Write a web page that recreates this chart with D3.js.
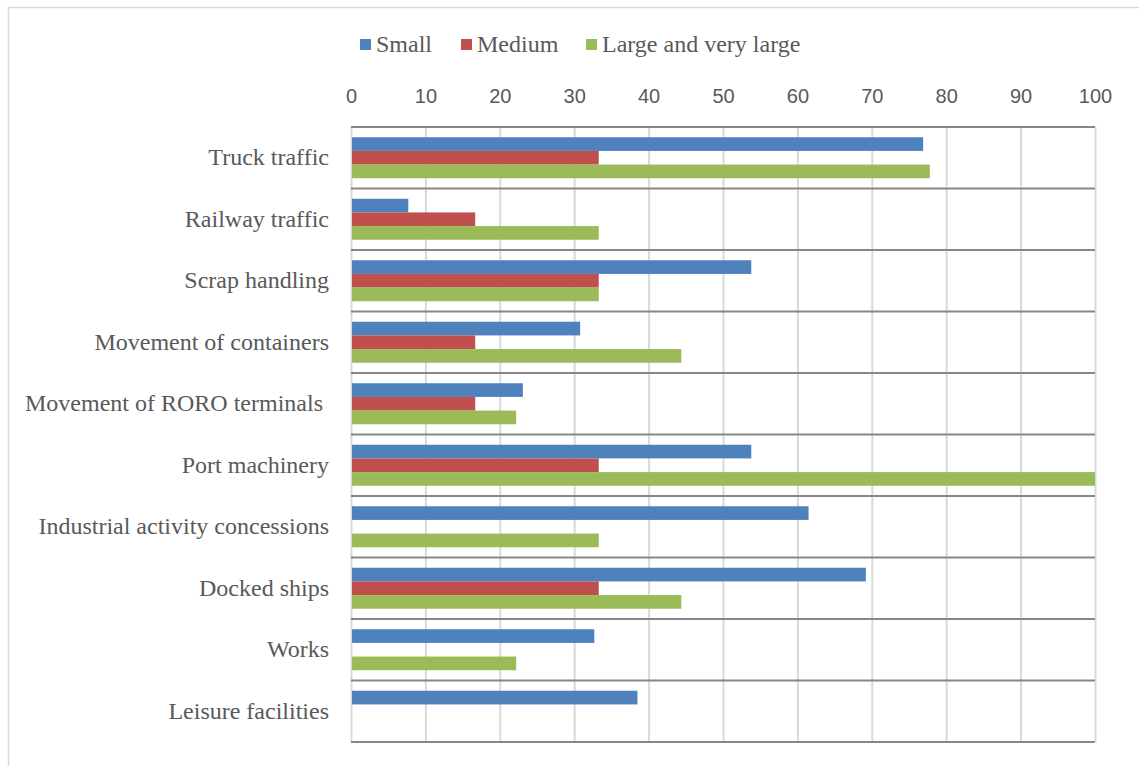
<!DOCTYPE html>
<html>
<head>
<meta charset="utf-8">
<script src="https://cdn.jsdelivr.net/npm/d3@7"></script>
<style>
  body { margin: 0; background: #fff; }
  svg { display: block; }
</style>
</head>
<body>
<svg width="1139" height="766"></svg>
<script>
// chart values
let categories = ["Truck traffic", "Railway traffic", "Scrap handling", "Movement of containers",
  "Movement of RORO terminals ", "Port machinery", "Industrial activity concessions",
  "Docked ships", "Works", "Leisure facilities"];
let seriesNames = ["Small", "Medium", "Large and very large"];
let seriesColors = ["#4F81BD", "#C0504D", "#9BBB59"];
let small  = [76.9, 7.7, 53.8, 30.8, 23.1, 53.8, 61.5, 69.2, 32.7, 38.5];
let medium = [33.3, 16.7, 33.3, 16.7, 16.7, 33.3, 0, 33.3, 0, 0];
let large  = [77.8, 33.3, 33.3, 44.4, 22.2, 100, 33.3, 44.4, 22.2, 0];
let xTicks = [0, 10, 20, 30, 40, 50, 60, 70, 80, 90, 100];

let values = [small, medium, large];

let svg = d3.select("svg");

// outer frame
svg.append("rect")
  .attr("x", 8.5).attr("y", 7.5)
  .attr("width", 1150).attr("height", 780)
  .attr("fill", "none")
  .attr("stroke", "#d9d9d9")
  .attr("stroke-width", 1.5);

let margin = { top: 127, left: 351 };
let plotWidth = 744;
let plotHeight = 615;

let x = d3.scaleLinear().domain([0, 100]).range([0, plotWidth]);
let y = d3.scaleBand().domain(categories).range([0, plotHeight]);
let ySub = d3.scaleBand().domain(seriesNames).range([0, y.bandwidth()]).paddingOuter(0.75);

let plot = svg.append("g").attr("id", "plot")
  .attr("transform", "translate(" + margin.left + "," + margin.top + ")");

// vertical gridlines
let grid = d3.axisTop(x).tickValues(xTicks).tickSize(-plotHeight).tickFormat("");
let gridGroup = plot.append("g").attr("id", "grid").call(grid);
gridGroup.select(".domain").remove();
gridGroup.selectAll("line").attr("stroke", "#d9d9d9").attr("stroke-width", 2);

// horizontal separators between categories
let sepY = categories.map(d => y(d)).concat([plotHeight]);
plot.append("g").selectAll("line")
  .data(sepY)
  .join("line")
  .attr("x1", 0).attr("x2", plotWidth)
  .attr("y1", d => d).attr("y2", d => d)
  .attr("stroke", "#878787")
  .attr("stroke-width", 2);

// bars
seriesNames.forEach(function(name, i) {
  plot.append("g").selectAll("rect")
    .data(categories)
    .join("rect")
    .attr("x", x(0) + 1)
    .attr("y", d => y(d) + ySub(name))
    .attr("width", (d, j) => Math.max(0, x(values[i][j]) - x(0) - 1))
    .attr("height", ySub.bandwidth())
    .attr("fill", seriesColors[i]);
});

// x axis labels on top
let xAxis = d3.axisTop(x).tickValues(xTicks).tickSize(0).tickPadding(0);
let xGroup = plot.append("g").attr("id", "x-axis").call(xAxis);
xGroup.select(".domain").remove();
xGroup.selectAll("text")
  .attr("y", -24)
  .attr("dy", 0)
  .attr("fill", "#595959")
  .style("font-family", "'Liberation Sans', Arial, sans-serif")
  .style("font-size", "20px");

// category labels
let yAxis = d3.axisLeft(y).tickSize(0).tickPadding(22);
let yGroup = plot.append("g").attr("id", "y-axis").call(yAxis);
yGroup.select(".domain").remove();
yGroup.selectAll("text")
  .attr("dy", "0.32em")
  .attr("fill", "#595959")
  .style("white-space", "pre")
  .style("font-family", "'Liberation Serif', 'Times New Roman', serif")
  .style("font-size", "24px");

// legend
let legendX = [360, 461, 586];
let legend = svg.append("g").attr("id", "legend");
seriesNames.forEach(function(name, i) {
  legend.append("rect")
    .attr("x", legendX[i]).attr("y", 39)
    .attr("width", 11).attr("height", 11)
    .attr("fill", seriesColors[i]);
  legend.append("text")
    .attr("x", legendX[i] + 16).attr("y", 52)
    .attr("fill", "#595959")
    .style("font-family", "'Liberation Serif', 'Times New Roman', serif")
    .style("font-size", "24px")
    .text(name);
});
</script>
</body>
</html>
